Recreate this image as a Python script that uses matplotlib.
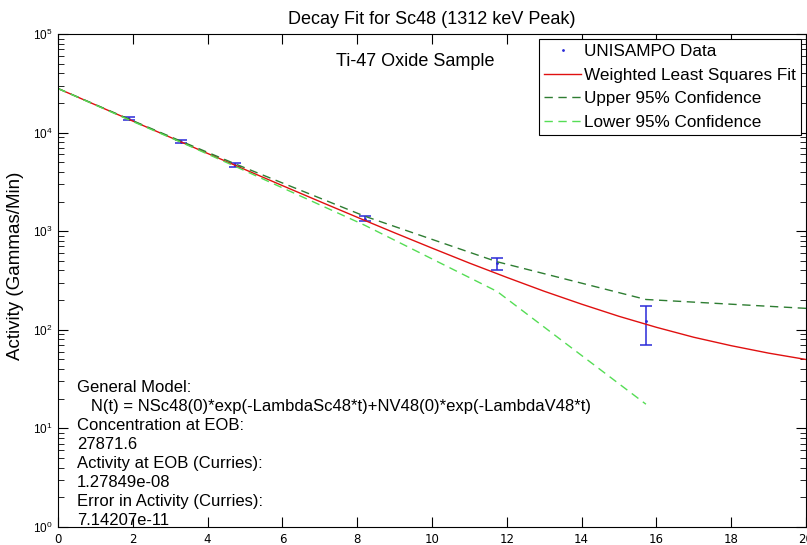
import numpy as np
import matplotlib.pyplot as plt
from matplotlib.ticker import LogLocator, FixedLocator, NullFormatter

plt.rcParams['font.family'] = ['Liberation Sans', 'DejaVu Sans']
plt.rcParams['mathtext.fontset'] = 'custom'
plt.rcParams['mathtext.rm'] = 'Liberation Sans Narrow'

# measured data (days, gammas/min)
t_data = [1.9, 3.3, 4.73, 8.2, 11.74, 15.72]
a_data = [13800, 8070, 4720, 1343, 474.5, 121.5]
a_err = [450, 300, 200, 70, 66.5, 51.5]

# weighted least squares fit
t_fit = list(range(0, 21))
a_fit = [28000, 19130, 13090, 8970, 6150, 4220, 2900, 2000, 1385, 963,
         674, 475, 340, 246, 182, 137, 106, 84, 69, 58, 50]

# 95% confidence bounds
t_up = [0, 1.9, 3.3, 4.73, 8.2, 11.74, 15.72, 20]
a_up = [28000, 13700, 8150, 4830, 1420, 490, 203, 165]
t_lo = [0, 1.9, 3.3, 4.73, 8.2, 11.74, 15.72]
a_lo = [28000, 13450, 7950, 4560, 1150, 245, 17.6]

info_lines = ['General Model:',
              '   N(t) = NSc48(0)*exp(-LambdaSc48*t)+NV48(0)*exp(-LambdaV48*t)',
              'Concentration at EOB:',
              '27871.6',
              'Activity at EOB (Curries):',
              '1.27849e-08',
              'Error in Activity (Curries):',
              '7.14207e-11']

fig = plt.figure(figsize=(8.07, 5.45), dpi=100)
ax = fig.add_axes([58 / 807, 1 - 527 / 545, 748 / 807, 493 / 545])

ax.plot(t_data, a_data, '.', color='#2a2ad8', ms=2, label='UNISAMPO Data')
ax.errorbar(t_data, a_data, yerr=a_err, fmt='none', ecolor='#2a2ad8',
            elinewidth=1.1, capsize=4, capthick=1.1)
ax.plot(t_fit, a_fit, color='#e01010', lw=1, label='Weighted Least Squares Fit')
ax.plot(t_up, a_up, '--', color='#2e7d32', lw=1, dashes=(6, 4),
        label='Upper 95% Confidence')
ax.plot(t_lo, a_lo, '--', color='#55dd55', lw=1, dashes=(6, 4),
        label='Lower 95% Confidence')

ax.set_yscale('log')
ax.set_xlim(0, 20)
ax.set_ylim(1, 1e5)
ax.xaxis.set_major_locator(FixedLocator(np.arange(0, 21, 2)))
ax.yaxis.set_major_locator(LogLocator(base=10, numticks=10))
ax.yaxis.set_minor_locator(LogLocator(base=10, subs=np.arange(2, 10), numticks=10))
ax.yaxis.set_minor_formatter(NullFormatter())
ax.tick_params(which='both', direction='in', top=True, right=True)
ax.tick_params(which='major', length=7, width=0.8, labelsize=8.5, pad=4)
ax.tick_params(which='minor', length=4, width=0.6)
for lab in ax.get_xticklabels():
    lab.set_family(['Liberation Sans Narrow', 'DejaVu Sans'])
for sp in ax.spines.values():
    sp.set_linewidth(0.8)

ax.set_title('Decay Fit for Sc48 (1312 keV Peak)', fontsize=13, pad=7)
ax.set_ylabel('Activity (Gammas/Min)', fontsize=13.5, labelpad=10)
ax.yaxis.set_label_coords(-0.045, 0.53)

ax.text(0.478, 0.945, 'Ti-47 Oxide Sample', transform=ax.transAxes,
        ha='center', va='center', fontsize=13)

y0 = 387
for i, line in enumerate(info_lines):
    ax.text(77, 545 - (y0 + 19.1 * i), line, transform=None,
            ha='left', va='center', fontsize=12)

leg = ax.legend(loc='upper right', fontsize=12.3, frameon=True, fancybox=False,
                edgecolor='black', framealpha=1, borderpad=0.3,
                labelspacing=0.5, handlelength=2.2, handletextpad=0.15,
                borderaxespad=0.3)
leg.get_frame().set_linewidth(0.8)

fig.savefig('out.png', dpi=100)
